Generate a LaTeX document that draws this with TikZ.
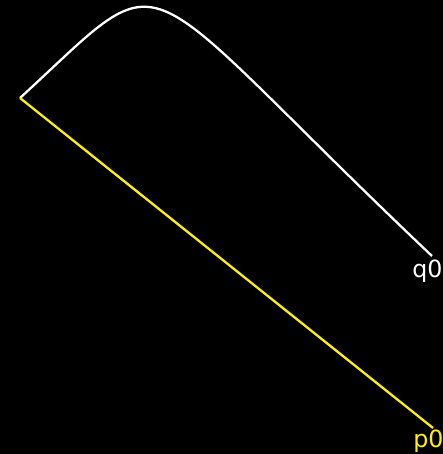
\documentclass[tikz,border=0pt]{standalone}
\usepackage{fontspec}
\setmainfont{DejaVu Sans}
\begin{document}
\begin{tikzpicture}[
  x=0.02cm, y=-0.02cm,
  curveline/.style = {draw=white, line width=1.3pt},
  segline/.style = {draw=yellow, line width=1.3pt},
  lbl/.style = {font=\fontsize{13.5}{16}\selectfont, inner sep=0pt, anchor=base west},
]
% background and frame
\fill[black] (0,0) rectangle (443,454);
\useasboundingbox (0,0) rectangle (443,454);

% points
\coordinate (o) at (20,98);
\coordinate (q) at (432,256);
\coordinate (p) at (433,428);
\coordinate (c1) at (177,-46);
\coordinate (c2) at (122,-38);

% curve and segment
\draw[curveline] (o) .. controls (c1) and (c2) .. (q);
\draw[segline] (o) -- (p);

% labels
\node[lbl, text=white] (qlbl) at (412,277) {q0};
\node[lbl, text=yellow] (plbl) at (413,447) {p0};
\end{tikzpicture}
\end{document}
